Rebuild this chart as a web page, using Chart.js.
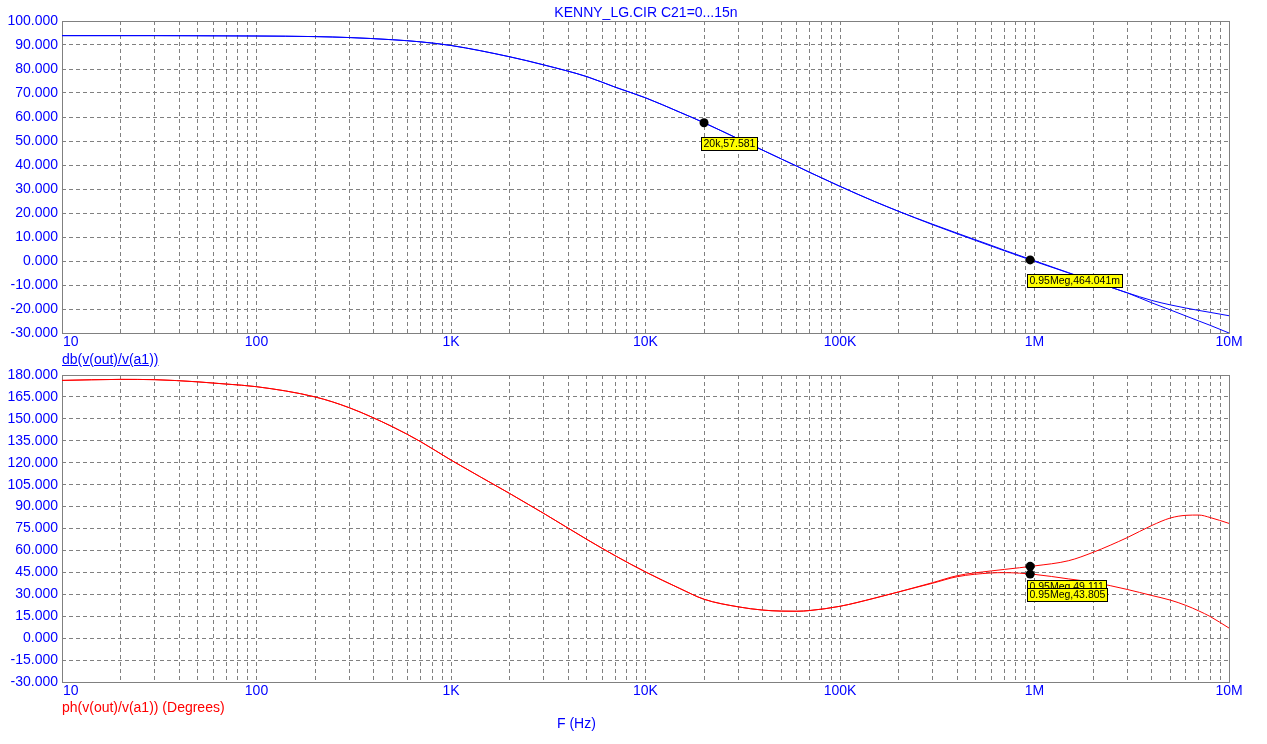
<!DOCTYPE html>
<html lang="en">
<head>
<meta charset="UTF-8">
<title>KENNY_LG.CIR C21=0...15n</title>
<script src="https://cdn.jsdelivr.net/npm/chart.js@4.4.0/dist/chart.umd.min.js"></script>
<style>
  body { margin: 0; background: #fff; font-family: 'Liberation Sans', Arial, sans-serif; }
  #wrap { position: relative; width: 1267px; height: 744px; overflow: hidden; }
  canvas { position: absolute; left: 0; top: 0; }
  .txt { position: absolute; font-size: 14px; line-height: 16px; white-space: nowrap; }
</style>
</head>
<body>
<div id="wrap">
  <canvas id="mag" width="1267" height="744"></canvas>
  <canvas id="phase" width="1267" height="744"></canvas>
  <div class="txt" style="left:446px;top:4px;width:400px;text-align:center;color:#0000ff">KENNY_LG.CIR C21=0...15n</div>
  <div class="txt" style="left:62px;top:351px;color:#0000ff;text-decoration:underline">db(v(out)/v(a1))</div>
  <div class="txt" style="left:62px;top:699px;color:#ff0000">ph(v(out)/v(a1)) (Degrees)</div>
  <div class="txt" style="left:557px;top:715px;color:#0000ff">F (Hz)</div>
</div>

<script>
// sweep points (Hz) shared by all four traces
const freqHz = [10, 20, 30, 50, 70, 100, 200, 300, 500, 700,
  1e3, 2e3, 3e3, 5e3, 7e3, 1e4, 1.5e4, 2e4, 3e4, 4e4,
  5e4, 6e4, 7e4, 1e5, 1.5e5, 2e5, 3e5, 4e5, 6e5, 7e5,
  1e6, 1.5e6, 2e6, 3e6, 4e6, 5e6, 6e6, 7e6, 8e6, 1e7];

// db(v(out)/v(a1)) for the two C21 steps
const magA = [93.9, 93.9, 93.9, 93.85, 93.8, 93.75, 93.5, 93.1, 92.2, 91.3,
  89.8, 85.1, 81.7, 76.8, 72.4, 68.0, 62.0, 57.6, 50.9, 46.2,
  42.5, 39.5, 36.9, 31.1, 24.85, 20.7, 15.1, 11.35, 6.2, 4.26,
  -0.16, -5.0, -8.5, -13.3, -17.4, -20.4, -22.9, -25.0, -26.8, -30.0];
const magB = [93.9, 93.9, 93.9, 93.85, 93.8, 93.75, 93.5, 93.1, 92.2, 91.3,
  89.8, 85.1, 81.7, 76.8, 72.4, 68.0, 62.0, 57.6, 50.9, 46.2,
  42.5, 39.5, 36.9, 31.1, 24.85, 20.7, 15.3, 11.6, 6.5, 4.5,
  0.1, -4.9, -8.4, -13.25, -16.4, -18.3, -19.6, -20.6, -21.4, -22.8];

// ph(v(out)/v(a1)) in degrees
const phLow = [176.3, 177.0, 176.8, 175.3, 173.8, 172.0, 165.0, 157.6, 144.6, 134.3,
  121.8, 99.0, 85.3, 67.5, 56.3, 45.3, 34.0, 26.6, 21.4, 19.2,
  18.5, 18.4, 18.9, 21.8, 27.3, 31.6, 37.6, 42.0, 44.6, 44.8,
  43.6, 40.5, 38.2, 33.3, 29.2, 26.0, 22.4, 18.6, 14.8, 6.9];
const phHigh = [176.3, 177.0, 176.8, 175.3, 173.8, 172.0, 165.0, 157.6, 144.6, 134.3,
  121.8, 99.0, 85.3, 67.5, 56.3, 45.3, 34.0, 26.6, 21.4, 19.2,
  18.5, 18.4, 18.9, 21.8, 27.3, 31.6, 38.0, 42.7, 46.0, 47.0,
  49.4, 53.0, 58.7, 68.8, 77.0, 82.2, 84.0, 84.2, 82.5, 78.5];

// x axis decades and their labels
const decadeHz = [10, 100, 1e3, 1e4, 1e5, 1e6, 1e7];
const decadeLabels = ['10', '100', '1K', '10K', '100K', '1M', '10M'];

// cursor readouts
const magCursorHz = [2e4, 9.5e5];
const magCursorVal = [57.581, 0.464];
const magCursorText = ['20k,57.581', '0.95Meg,464.041m'];
const phCursorHz = [9.5e5, 9.5e5];
const phCursorVal = [49.111, 43.805];
const phCursorText = ['0.95Meg,49.111', '0.95Meg,43.805'];

const FONT = '"Liberation Sans", Arial, sans-serif';
const GRID = '#808080';

// grid at 1..9 x every decade
const gridHz = [];
for (let i = 0; i < decadeHz.length - 1; i++) {
  for (let m = 1; m <= 9; m++) gridHz.push(m * decadeHz[i]);
}
gridHz.push(decadeHz[decadeHz.length - 1]);

const pts = (ys, xs) => xs.map((x, i) => ({ x: x, y: ys[i] }));

// solid frame + decade labels under the plot
const plotFrame = {
  id: 'plotFrame',
  beforeDatasetsDraw(chart) {
    const { ctx, chartArea: a } = chart;
    ctx.save();
    ctx.strokeStyle = GRID;
    ctx.lineWidth = 1;
    ctx.setLineDash([]);
    ctx.strokeRect(a.left + 0.5, a.top + 0.5, a.right - a.left, a.bottom - a.top);
    ctx.fillStyle = '#0000ff';
    ctx.font = '14px ' + FONT;
    ctx.textBaseline = 'top';
    decadeHz.forEach((f, i) => {
      const x = chart.scales.x.getPixelForValue(f);
      ctx.textAlign = i === 0 ? 'left' : 'center';
      ctx.fillText(decadeLabels[i], i === 0 ? x + 1 : x, a.bottom + 2);
    });
    ctx.restore();
  }
};

// yellow cursor tags
const cursorTags = {
  id: 'cursorTags',
  afterDatasetsDraw(chart, args, opts) {
    const { ctx } = chart;
    ctx.save();
    ctx.font = '10.5px ' + FONT;
    ctx.textBaseline = 'middle';
    ctx.textAlign = 'left';
    ctx.lineWidth = 1;
    opts.hz.forEach((f, i) => {
      const px = chart.scales.x.getPixelForValue(f);
      const py = chart.scales.y.getPixelForValue(opts.val[i]);
      const w = Math.ceil(ctx.measureText(opts.text[i]).width) + 4;
      const bx = Math.round(px) - 2.5, by = Math.round(py) + 14.5;
      ctx.fillStyle = '#ffff00';
      ctx.fillRect(bx, by, w, 13);
      ctx.strokeStyle = '#000';
      ctx.strokeRect(bx, by, w, 13);
      ctx.fillStyle = '#000';
      ctx.fillText(opts.text[i], bx + 2, by + 7);
    });
    ctx.restore();
  }
};

function makePlot(id, traces, color, yMin, yMax, yStep, top, bottom, cursor) {
  const datasets = [{
    data: pts(cursor.val, cursor.hz),
    showLine: false,
    pointRadius: 4.5,
    pointBackgroundColor: '#000',
    pointBorderColor: '#000',
    pointBorderWidth: 0
  }];
  traces.forEach(t => datasets.push({
    data: pts(t, freqHz),
    borderColor: color,
    borderWidth: 1,
    pointRadius: 0,
    cubicInterpolationMode: 'monotone'
  }));

  return new Chart(document.getElementById(id), {
    type: 'line',
    data: { datasets: datasets },
    plugins: [plotFrame, cursorTags],
    options: {
      responsive: false,
      animation: false,
      events: [],
      layout: { padding: { left: 0, right: 38, top: top, bottom: 744 - bottom } },
      plugins: {
        legend: { display: false },
        tooltip: { enabled: false },
        cursorTags: cursor
      },
      scales: {
        x: {
          type: 'logarithmic',
          min: decadeHz[0],
          max: decadeHz[decadeHz.length - 1],
          afterBuildTicks(s) { s.ticks = gridHz.map(v => ({ value: v })); },
          afterFit(s) { s.height = 0; },
          ticks: { display: false },
          grid: { color: GRID, drawTicks: false },
          border: { display: false, dash: [4, 3] }
        },
        y: {
          min: yMin,
          max: yMax,
          afterFit(s) { s.width = 62; },
          ticks: {
            stepSize: yStep,
            color: '#0000ff',
            padding: 4,
            font: { family: FONT, size: 14 },
            callback: v => v.toFixed(3)
          },
          grid: { color: GRID, drawTicks: false },
          border: { display: false, dash: [4, 3] }
        }
      }
    }
  });
}

makePlot('mag', [magA, magB], '#0000ff', -30, 100, 10, 21, 333,
  { hz: magCursorHz, val: magCursorVal, text: magCursorText });
makePlot('phase', [phLow, phHigh], '#ff0000', -30, 180, 15, 375, 682,
  { hz: phCursorHz, val: phCursorVal, text: phCursorText });
</script>
</body>
</html>
